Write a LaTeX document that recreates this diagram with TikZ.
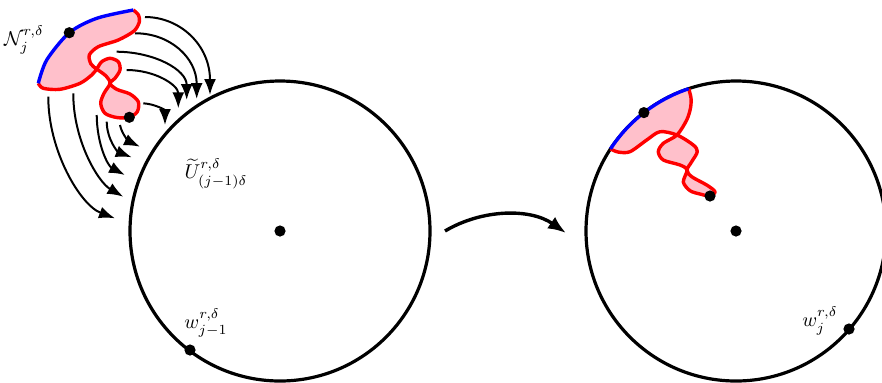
\documentclass[tikz,border=0pt]{standalone}
\usetikzlibrary{arrows.meta}
\definecolor{shapepink}{RGB}{255,192,203}
\begin{document}
\begin{tikzpicture}[x=0.5pt,y=-0.5pt,
  dot/.style={circle,fill=black,inner sep=0pt,minimum size=5.6pt},
  bigcirc/.style={line width=1.6pt},
  flow/.style={line width=1pt,-{Latex[length=8pt,width=6pt]}},
  bigflow/.style={line width=1.7pt,-{Latex[length=9pt,width=7pt]}},
  redline/.style={red,line width=1.7pt,line join=round},
  blueline/.style={blue,line width=1.7pt},
  lab/.style={inner sep=0pt}]
\useasboundingbox (0,0) rectangle (882,382);

% centres and dots
\node[dot] (cL) at (280,231) {};
\node[dot] (cR) at (736,231) {};

% circles
\draw[bigcirc] (cL.center) circle[radius=150];
\draw[bigcirc] (cR.center) circle[radius=150];

% ---------- left shape ----------
\fill[shapepink] plot[smooth] coordinates {(38.3,83.3) (46.7,60) (69.3,32.7) (96.7,18.3) (133.3,10)}
  -- plot[smooth] coordinates {(133.3,10) (138.5,15) (139.3,22) (134,31) (118.3,40) (98.3,46.7) (89.3,55) (91,64) (96.7,69) (106,76) (110,83.3) (104,93.3) (100.7,103.3) (105,113.3) (116.7,117.5) (129.3,117.3) (137.3,111.7) (138.3,101.7) (130,94) (116.7,89.3) (110,83.3) (115,78.3) (120,70) (118.3,61.7) (110,58.3) (101.7,61.7) (96.7,69) (91.7,75) (80,83.3) (60,89.3) (43.3,88.3) (38.3,83.3)} -- cycle;
\draw[redline] plot[smooth] coordinates {(133.3,10) (138.5,15) (139.3,22) (134,31) (118.3,40) (98.3,46.7) (89.3,55) (91,64) (96.7,69) (106,76) (110,83.3) (104,93.3) (100.7,103.3) (105,113.3) (116.7,117.5) (129.3,117.3) (137.3,111.7) (138.3,101.7) (130,94) (116.7,89.3) (110,83.3) (115,78.3) (120,70) (118.3,61.7) (110,58.3) (101.7,61.7) (96.7,69) (91.7,75) (80,83.3) (60,89.3) (43.3,88.3) (38.3,83.3)};
\draw[blueline] plot[smooth] coordinates {(38.3,83.3) (46.7,60) (69.3,32.7) (96.7,18.3) (133.3,10)};
\node[dot] (nL) at (69.3,32.7) {};
\node[dot] (eL) at (129.3,117.3) {};

% ---------- right shape ----------
\fill[shapepink] (610.5,148.9) arc[start angle=213.2,end angle=251.6,radius=150]
  -- plot[smooth] coordinates {(688.7,88.7) (691,98) (690.5,108) (686.7,120) (677,135) (663.3,143.3) (658.3,151.7) (663.3,160) (680,165) (687,170) (683.3,182) (690,190.7) (700,194) (710,196) (715,191.7) (706.7,185) (691.7,176.7) (687,170) (691.7,161.7) (697.3,151.7) (693.3,145) (677,135) (660,131.7) (646.7,140) (630,151.7) (618,152) (610.5,148.9)} -- cycle;
\draw[redline] plot[smooth] coordinates {(688.7,88.7) (691,98) (690.5,108) (686.7,120) (677,135) (663.3,143.3) (658.3,151.7) (663.3,160) (680,165) (687,170) (683.3,182) (690,190.7) (700,194) (710,196) (715,191.7) (706.7,185) (691.7,176.7) (687,170) (691.7,161.7) (697.3,151.7) (693.3,145) (677,135) (660,131.7) (646.7,140) (630,151.7) (618,152) (610.5,148.9)};
\draw[blueline] (610.5,148.9) arc[start angle=213.2,end angle=251.6,radius=150];
\node[dot] (nR) at (643.9,112.6) {};
\node[dot] (eR) at (710,196) {};

% boundary points
\node[dot] (wL) at (190,350) {};
\node[dot] (wR) at (849,329) {};

% ---------- flow arrows ----------
\coordinate (t1s) at (145,17);   \coordinate (t1e) at (210,95);
\coordinate (t2s) at (135,33.3); \coordinate (t2e) at (196.7,99);
\coordinate (t3s) at (116.7,51.7); \coordinate (t3e) at (186.7,100);
\coordinate (t4s) at (126.7,70); \coordinate (t4e) at (178.3,108.3);
\coordinate (t5s) at (143.3,103.3); \coordinate (t5e) at (165,125);
\draw[flow] (t1s) .. controls (180,17) and (210,45) .. (t1e);
\draw[flow] (t2s) .. controls (170,33) and (196.7,58) .. (t2e);
\draw[flow] (t3s) .. controls (155,52) and (186.7,70) .. (t3e);
\draw[flow] (t4s) .. controls (155,70) and (178.3,85) .. (t4e);
\draw[flow] (t5s) .. controls (155,104) and (165,110) .. (t5e);

\coordinate (b1s) at (48.3,96.7);  \coordinate (b1e) at (115,218.3);
\coordinate (b2s) at (73.3,93.3);  \coordinate (b2e) at (123.3,196.7);
\coordinate (b3s) at (96.7,115);   \coordinate (b3e) at (125,175);
\coordinate (b4s) at (106.7,121.7); \coordinate (b4e) at (131.7,157.3);
\coordinate (b5s) at (120,125);    \coordinate (b5e) at (140,146.7);
\draw[flow] (b1s) .. controls (48,150) and (80,205) .. (b1e);
\draw[flow] (b2s) .. controls (73,140) and (98,182) .. (b2e);
\draw[flow] (b3s) .. controls (97,145) and (108,166) .. (b3e);
\draw[flow] (b4s) .. controls (107,140) and (118,152) .. (b4e);
\draw[flow] (b5s) .. controls (122,135) and (130,142) .. (b5e);

% big arrow
\coordinate (gs) at (445,231);
\coordinate (ge) at (566,233);
\draw[bigflow] (gs) .. controls (482,209) and (530,208) .. (ge);

% ---------- labels ----------
\node[lab] (labN) at (24,40) {$\mathcal{N}_j^{r,\delta}$};
\node[lab] (labU) at (216,174) {$\widetilde{U}^{r,\delta}_{(j-1)\delta}$};
\node[lab] (labwL) at (206,323) {$w^{r,\delta}_{j-1}$};
\node[lab] (labwR) at (820,321) {$w^{r,\delta}_{j}$};
\end{tikzpicture}
\end{document}
